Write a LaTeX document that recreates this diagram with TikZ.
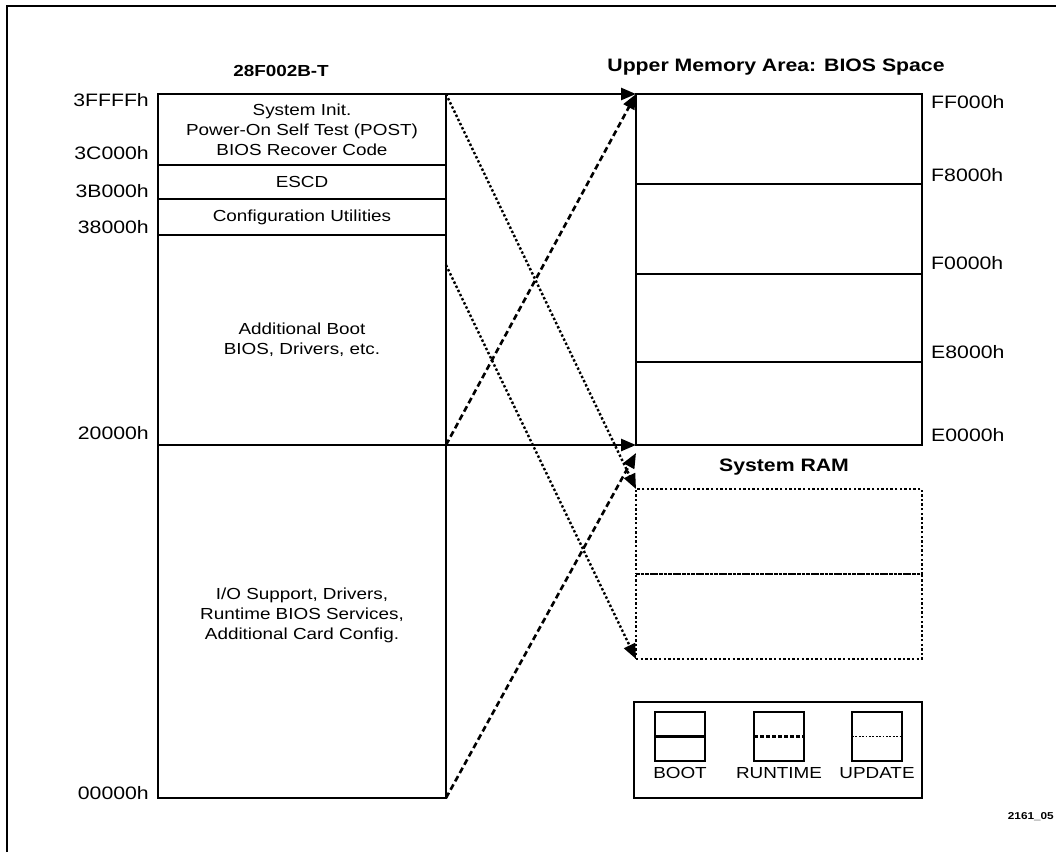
\documentclass[tikz,border=0pt]{standalone}
\usepackage{fontspec}
\setmainfont{Liberation Sans}[FakeStretch=1.18]
\usepackage{tikz}
\usetikzlibrary{arrows.meta,positioning}

\begin{document}
\begin{tikzpicture}[x=1pt,y=-1pt,>={Triangle[length=15pt,width=12pt]},
        block/.style={draw,line width=2.6pt,minimum width=288pt,inner sep=0pt,
                      outer sep=0pt,align=center,font=\fontsize{16}{20}\selectfont},
        umablock/.style={block,minimum width=286pt},
        ramblock/.style={umablock,line width=2.4pt,dash pattern=on 2.4pt off 2.2pt},
        addr/.style={inner sep=0pt,font=\fontsize{18}{20}\selectfont},
        heading/.style={inner sep=0pt,font=\fontsize{18}{20}\selectfont\bfseries},
        keybox/.style={draw,line width=2.6pt,minimum width=50pt,minimum height=49pt,
                       inner sep=0pt,outer sep=0pt},
        keytext/.style={inner sep=0pt,font=\fontsize{16}{20}\selectfont},
        boot/.style={line width=2.6pt},
        runtime/.style={line width=2.6pt,dash pattern=on 6pt off 3.5pt},
        update/.style={line width=2.4pt,dash pattern=on 2.4pt off 2.2pt}]

    \useasboundingbox (0,0) rectangle (1056,852);
    \draw[line width=2.6pt] (7,852) -- (7,6) -- (1056,6);

    % flash part
    \node[heading,font=\fontsize{16}{20}\selectfont\bfseries] (flash) at (281,71) {28F002B-T};
    \node[block,minimum height=71pt] (init) at (302,129.5)
        {System Init.\\Power-On Self Test (POST)\\BIOS Recover Code};
    \node[block,minimum height=34pt,below=0pt of init] (escd) {ESCD};
    \node[block,minimum height=36pt,below=0pt of escd] (cfg) {Configuration Utilities};
    \node[block,minimum height=210pt,below=0pt of cfg] (bootblk)
        {Additional Boot\\BIOS, Drivers, etc.};
    \node[block,minimum height=353pt,below=0pt of bootblk] (io)
        {I/O Support, Drivers,\\Runtime BIOS Services,\\Additional Card Config.\\[-4pt]\mbox{}};

    \node[addr,anchor=east] (a3ffff) at (149,100) {3FFFFh};
    \node[addr,anchor=east] (a3c000) at (149,153) {3C000h};
    \node[addr,anchor=east] (a3b000) at (149,191) {3B000h};
    \node[addr,anchor=east] (a38000) at (149,227) {38000h};
    \node[addr,anchor=east] (a20000) at (149,433) {20000h};
    \node[addr,anchor=east] (a00000) at (149,793) {00000h};

    % upper memory area
    \node[heading] (uma) at (776,67) {Upper Memory Area: BIOS Space};
    \node[umablock,minimum height=90pt] (uma1) at (779,139) {};
    \node[umablock,minimum height=90pt,below=0pt of uma1] (uma2) {};
    \node[umablock,minimum height=88pt,below=0pt of uma2] (uma3) {};
    \node[umablock,minimum height=83pt,below=0pt of uma3] (uma4) {};

    \node[addr,anchor=west] (aff000) at (931,102) {FF000h};
    \node[addr,anchor=west] (af8000) at (931,175) {F8000h};
    \node[addr,anchor=west] (af0000) at (931,263) {F0000h};
    \node[addr,anchor=west] (ae8000) at (931,352) {E8000h};
    \node[addr,anchor=west] (ae0000) at (931,435) {E0000h};

    % system ram
    \node[heading] (ram) at (784,467) {System RAM};
    \node[ramblock,minimum height=85pt] (ram1) at (779,531.5) {};
    \node[ramblock,minimum height=85pt,below=0pt of ram1] (ram2) {};

    % mappings
    \coordinate (rtend) at (636,453);
    \coordinate (updsrc) at ([yshift=-30pt]bootblk.north east);
    \draw[boot,->] (init.north east) -- (uma1.north west);
    \draw[boot,->] (bootblk.south east) -- (uma4.south west);
    \draw[runtime,->] (bootblk.south east) -- (uma1.north west);
    \draw[runtime,->] (io.south east) -- (rtend);
    \draw[update,->] (init.north east) -- (ram1.north west);
    \draw[update,->] (updsrc) -- (ram2.south west);

    % key
    \node[draw,line width=2.6pt,minimum width=288pt,minimum height=96pt] (key) at (778,750) {};
    \node[keybox] (kboot) at (680,736.5) {};
    \node[keybox] (krun) at (779,736.5) {};
    \node[keybox] (kupd) at (877,736.5) {};
    \draw[boot] (kboot.west) -- (kboot.east);
    \draw[line width=2.2pt,dash pattern=on 4pt off 2pt] (krun.west) -- (krun.east);
    \draw[line width=1.8pt,dash pattern=on 1.8pt off 1.6pt] (kupd.west) -- (kupd.east);
    \node[keytext,below=6pt of kboot] {BOOT};
    \node[keytext,below=6pt of krun] {RUNTIME};
    \node[keytext,below=6pt of kupd] {UPDATE};

    \node[anchor=east,inner sep=0pt,font=\fontsize{10}{12}\selectfont\bfseries] (fig) at (1054,817) {2161\_05};
\end{tikzpicture}
\end{document}
